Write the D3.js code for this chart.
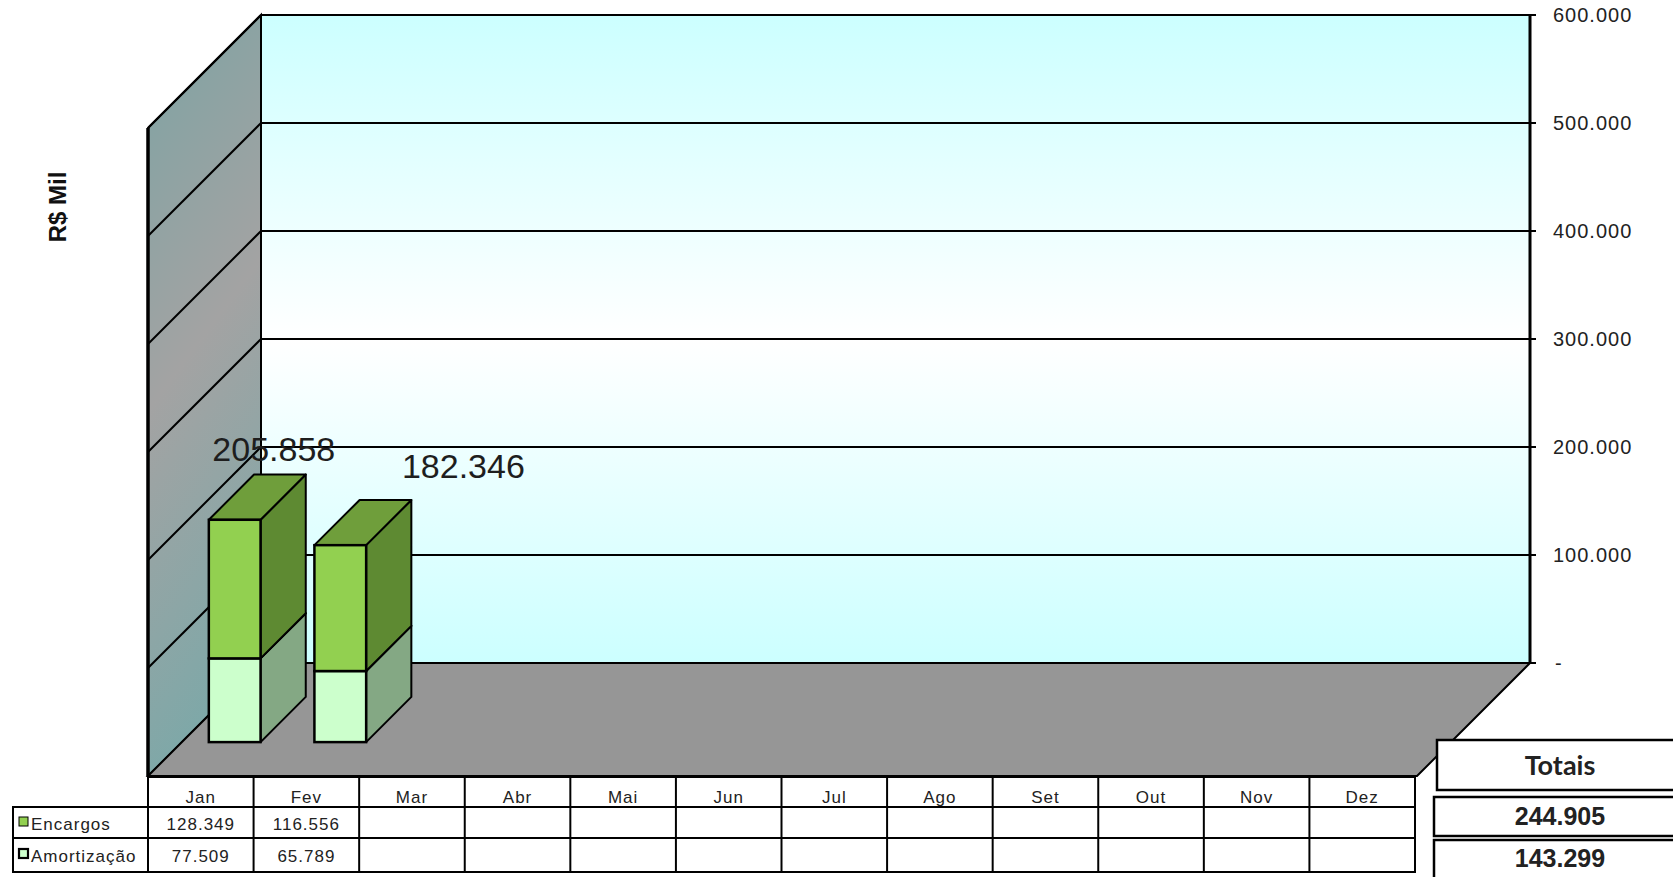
<!DOCTYPE html>
<html><head><meta charset="utf-8">
<script src="https://cdn.jsdelivr.net/npm/d3@7"></script>
<style>html,body{margin:0;padding:0;background:#fff;}svg{display:block;}</style>
</head><body>
<svg id="chart" width="1673" height="877"></svg>
<script>
// ---------- DATA ----------
const months = ["Jan","Fev","Mar","Abr","Mai","Jun","Jul","Ago","Set","Out","Nov","Dez"];
const encargos = [128349, 116556, null, null, null, null, null, null, null, null, null, null];
const amortizacao = [77509, 65789, null, null, null, null, null, null, null, null, null, null];
const barLabels = [205858, 182346];
const seriesNames = ["Encargos", "Amortização"];
const totais = [244905, 143299];
const yTicks = [0, 100000, 200000, 300000, 400000, 500000, 600000];
const yTitle = "R$ Mil";

// ---------- LAYOUT ----------
const svg = d3.select("#chart");
const BACK_L = 261, BACK_R = 1530, TOP = 15, BASE = 663;
const DX = -113, DY = 113; // depth offset from back (0) to front (1)
const y = d3.scaleLinear().domain([0, 600000]).range([BASE, TOP]);
const xBack = d3.scaleBand().domain(months).range([BACK_L, BACK_R - 2]).padding(0);
const xFront = d3.scaleBand().domain(months).range([BACK_L + DX, BACK_R - 2 + DX]).padding(0);
const P = (x, yy, d) => [x + DX * d, yy + DY * d];
const fmt = d3.formatLocale({decimal: ",", thousands: ".", grouping: [3], currency: ["R$", ""]}).format(",.0f");

const defs = svg.append("defs");
const gb = defs.append("linearGradient").attr("id", "gBack").attr("x1", 0).attr("y1", 0).attr("x2", 0).attr("y2", 1);
gb.append("stop").attr("offset", "0").attr("stop-color", "#CCFFFF");
gb.append("stop").attr("offset", "0.5").attr("stop-color", "#FFFFFF");
gb.append("stop").attr("offset", "1").attr("stop-color", "#CCFFFF");
const gs = defs.append("linearGradient").attr("id", "gSide").attr("x1", 0).attr("y1", 0).attr("x2", 0.2).attr("y2", 1);
gs.append("stop").attr("offset", "0").attr("stop-color", "#7DA3A3");
gs.append("stop").attr("offset", "0.5").attr("stop-color", "#A3A3A3");
gs.append("stop").attr("offset", "1").attr("stop-color", "#7DA8A8");

const line = d3.line();
const poly = pts => line(pts) + "Z";

// back wall
svg.append("rect").attr("x", BACK_L).attr("y", TOP).attr("width", BACK_R - BACK_L).attr("height", BASE - TOP)
  .attr("fill", "url(#gBack)");
// side wall
svg.append("path").attr("d", poly([P(BACK_L, TOP, 1), [BACK_L, TOP], [BACK_L, BASE], P(BACK_L, BASE, 1)]))
  .attr("fill", "url(#gSide)").attr("stroke", "#000").attr("stroke-width", 2);
// floor
svg.append("path").attr("d", poly([[BACK_L, BASE], [BACK_R, BASE], P(BACK_R, BASE, 1), P(BACK_L, BASE, 1)]))
  .attr("fill", "#969696").attr("stroke", "#000").attr("stroke-width", 2);

// gridlines
yTicks.forEach(t => {
  const yy = y(t);
  if (t > 0) {
    svg.append("line").attr("x1", BACK_L).attr("x2", BACK_R).attr("y1", yy).attr("y2", yy)
      .attr("stroke", "#000").attr("stroke-width", 2);
    const a = P(BACK_L, yy, 1);
    svg.append("line").attr("x1", BACK_L).attr("y1", yy).attr("x2", a[0]).attr("y2", a[1])
      .attr("stroke", "#000").attr("stroke-width", 2);
  }
  svg.append("line").attr("x1", BACK_R).attr("x2", BACK_R + 6).attr("y1", yy).attr("y2", yy)
    .attr("stroke", "#000").attr("stroke-width", 2);
  svg.append("text").attr("x", t === 0 ? 1555 : 1553).attr("y", yy + 7)
    .attr("font-family", "Liberation Sans, Arial, sans-serif").attr("font-size", 20)
    .attr("letter-spacing", 1).attr("fill", "#222").text(t === 0 ? "-" : fmt(t));
});
// edges
svg.append("line").attr("x1", BACK_L).attr("x2", BACK_L).attr("y1", TOP).attr("y2", BASE).attr("stroke", "#000").attr("stroke-width", 2);
svg.append("line").attr("x1", BACK_R).attr("x2", BACK_R).attr("y1", TOP).attr("y2", BASE).attr("stroke", "#000").attr("stroke-width", 3);
svg.append("line").attr("x1", BACK_L + DX).attr("x2", BACK_L + DX).attr("y1", TOP + DY).attr("y2", BASE + DY).attr("stroke", "#000").attr("stroke-width", 3.5);

// bars
const stackData = months.map((m, i) => ({m, amort: amortizacao[i] || 0, enc: encargos[i] || 0}));
const stack = d3.stack().keys(["amort", "enc"])(stackData);
const fills = {
  amort: {front: "#CCFFCC", side: "#84A884", top: "#A8D8A8"},
  enc: {front: "#92D050", side: "#5E8A32", top: "#6F9E3B"}
};
const D0 = 0.30, D1 = 0.70, BW = 0.49;
months.forEach((m, i) => {
  if (!(encargos[i] || amortizacao[i])) return;
  const cx = xBack(m) + xBack.bandwidth() / 2;
  const w = xBack.bandwidth() * BW;
  const xl = cx - w / 2, xr = cx + w / 2;
  stack.forEach(s => {
    const v0 = s[i][0], v1 = s[i][1];
    if (v1 <= v0) return;
    const f = fills[s.key];
    const y0 = y(v0), y1 = y(v1);
    svg.append("path").attr("d", poly([P(xr, y1, D1), P(xr, y1, D0), P(xr, y0, D0), P(xr, y0, D1)]))
      .attr("fill", f.side).attr("stroke", "#000").attr("stroke-width", 2).attr("stroke-linejoin", "round");
    svg.append("path").attr("d", poly([P(xl, y1, D1), P(xl, y1, D0), P(xr, y1, D0), P(xr, y1, D1)]))
      .attr("fill", f.top).attr("stroke", "#000").attr("stroke-width", 2).attr("stroke-linejoin", "round");
    const a = P(xl, y1, D1), b = P(xr, y0, D1);
    svg.append("rect").attr("x", a[0]).attr("y", a[1]).attr("width", b[0] - a[0]).attr("height", b[1] - a[1])
      .attr("fill", f.front).attr("stroke", "#000").attr("stroke-width", 2.5);
  });
});

// data labels
const labelNudge = [[-40, 20], [44, 12]];
barLabels.forEach((v, i) => {
  const m = months[i];
  svg.append("text")
    .attr("x", xBack(m) + xBack.bandwidth() / 2 + labelNudge[i][0])
    .attr("y", y(v) + labelNudge[i][1])
    .attr("text-anchor", "middle")
    .attr("font-family", "Liberation Sans, Arial, sans-serif").attr("font-size", 34)
    .attr("fill", "#1e1e1e").text(fmt(v));
});

// y title
svg.append("text").attr("transform", "translate(66,207) rotate(-90)").attr("text-anchor", "middle")
  .attr("font-family", "Liberation Sans, Arial, sans-serif").attr("font-weight", "bold")
  .attr("font-size", 24).attr("fill", "#111").text(yTitle);

// ---------- DATA TABLE ----------
const T_TOP = 777, R1 = 807, R2 = 838, T_BOT = 872, LEG_L = 13;
const tx0 = xFront.range()[0], tx1 = xFront.range()[1];
const tg = svg.append("g").attr("stroke", "#000").attr("stroke-width", 2).attr("fill", "none");
tg.append("rect").attr("x", tx0).attr("y", T_TOP).attr("width", tx1 - tx0).attr("height", T_BOT - T_TOP);
tg.append("rect").attr("x", LEG_L).attr("y", R1).attr("width", tx1 - LEG_L).attr("height", T_BOT - R1);
tg.append("line").attr("x1", LEG_L).attr("x2", tx1).attr("y1", R2).attr("y2", R2);
months.forEach((m, i) => {
  if (i > 0) tg.append("line").attr("x1", xFront(m)).attr("x2", xFront(m)).attr("y1", T_TOP).attr("y2", T_BOT);
});
const tf = {"font-family": "Liberation Sans, Arial, sans-serif", "font-size": 17, "fill": "#222", "letter-spacing": 1};
const addText = (x, yy, txt, anchor) => {
  const t = svg.append("text").attr("x", x).attr("y", yy).attr("text-anchor", anchor || "middle").text(txt);
  Object.entries(tf).forEach(([k, v]) => t.attr(k, v));
  return t;
};
months.forEach(m => addText(xFront(m) + xFront.bandwidth() / 2, 803, m));
[encargos, amortizacao].forEach((arr, r) => {
  const yy = r === 0 ? 830 : 862;
  arr.forEach((v, i) => { if (v != null) addText(xFront(months[i]) + xFront.bandwidth() / 2, yy, fmt(v)); });
});
const keyFill = [fills.enc.front, fills.amort.front];
seriesNames.forEach((n, r) => {
  const yy = r === 0 ? 830 : 862;
  svg.append("rect").attr("x", 19).attr("y", yy - 13).attr("width", 9).attr("height", 9)
    .attr("fill", keyFill[r]).attr("stroke", "#000").attr("stroke-width", r === 0 ? 1 : 2.2);
  addText(31, yy, n, "start");
});

// ---------- TOTALS BOXES ----------
const boxes = [
  {y0: 740, y1: 790, x: 1437, txt: "Totais", base: 775, font: "Lato, sans-serif", size: 27},
  {y0: 797, y1: 836, x: 1434, txt: fmt(totais[0]), base: 825, font: "Liberation Sans, Arial, sans-serif", size: 25},
  {y0: 840, y1: 890, x: 1434, txt: fmt(totais[1]), base: 867, font: "Liberation Sans, Arial, sans-serif", size: 25}
];
boxes.forEach(b => {
  svg.append("rect").attr("x", b.x).attr("y", b.y0).attr("width", 1700 - b.x).attr("height", b.y1 - b.y0)
    .attr("fill", "#fff").attr("stroke", "#000").attr("stroke-width", 2.5);
  svg.append("text").attr("x", 1560).attr("y", b.base).attr("text-anchor", "middle")
    .attr("font-family", b.font).attr("font-weight", "bold").attr("font-size", b.size)
    .attr("fill", "#222").text(b.txt);
});
</script>
</body></html>
